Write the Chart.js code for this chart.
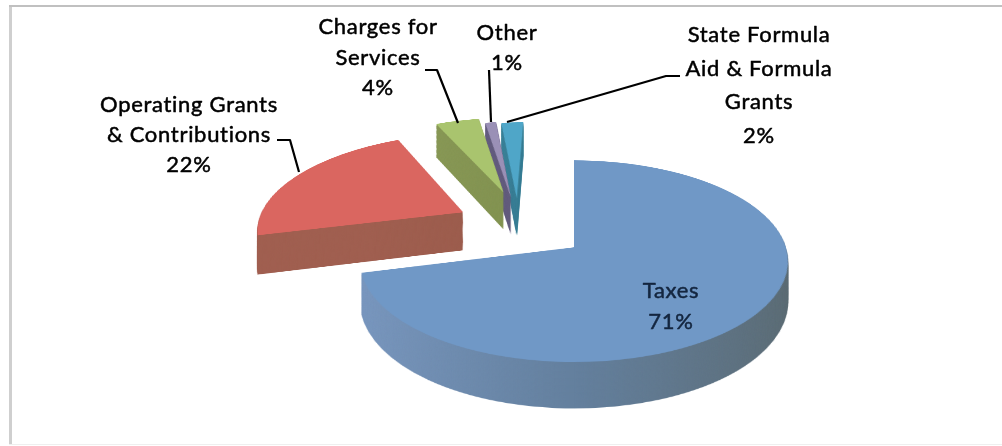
<!DOCTYPE html>
<html>
<head>
<meta charset="utf-8">
<title>Revenue by source</title>
<script src="https://cdn.jsdelivr.net/npm/chart.js@4"></script>
<style>
  html, body { margin: 0; padding: 0; background: #fff; }
  canvas { display: block; }
</style>
</head>
<body>
<canvas id="revenuePie" width="1002" height="446"></canvas>
<script>
// --- DATA ---
const categories = ['Taxes', 'Operating Grants & Contributions', 'Charges for Services', 'Other', 'State Formula Aid & Formula Grants'];
const values = [71, 22, 4, 1, 2];
const labelLines = [['Taxes'], ['Operating Grants', '& Contributions'], ['Charges for', 'Services'], ['Other'], ['State Formula', 'Aid & Formula', 'Grants']];

// --- STYLE ---
const topColors = ['#7098c6', '#da6660', '#a9c46e', '#9a90b6', '#4fa6c8'];
const sideColors = [['#7a98c0', '#64809e', '#5c6c74'], ['#a05f50', '#985a4a', '#8c5244'], ['#8a9a58', '#7f8f4e', '#76864a'], ['#6a6488', '#5f5878', '#565070'], ['#3f8ea8', '#38788e', '#346c80']];
const labelX = [671, 189, 378, 507, 759];
const labelY = [291, 105, 27, 33, 35];
const lineGap = [31, 30, 30.5, 30, 33.5];
const leaders = [
  null,
  [[277, 140], [290, 140], [299, 172]],
  [[425, 70], [437, 70], [458, 123]],
  [[489, 70], [491, 122]],
  [[680, 76], [666, 76], [507, 122]]
];

// slice displacement on the flat disc, as fractions of the radius
const shiftU = [0, -0.55, -0.36, -0.32, -0.29];
const shiftV = [0, -0.372, -0.60, -0.54, -0.53];

// --- PROJECTION ---
const OFF_W = 800, OFF_H = 800, FLAT_X = 400, FLAT_Y = 450;
const VIEW_X = 574, VIEW_Y = 247;   // disc centre on screen
const RADIUS_X = 212, RADIUS_Y = 99, TILT = 0.138, DEPTH = 40;

function makeLayer() {
  const c = document.createElement('canvas');
  c.width = OFF_W;
  c.height = OFF_H;
  return c;
}

// Copies a flat layer row by row through the perspective, lowered by depth
function project(ctx, flat, radius, depth) {
  const xScale = RADIUS_X / radius;
  for (let y = 0; y < 446; y++) {
    const t = y - VIEW_Y;
    const v = (t - depth) / (RADIUS_Y + TILT * t);
    const srcY = FLAT_Y + v * radius;
    if (srcY < 0 || srcY >= OFF_H - 1) continue;
    const w = 1 / (1 - TILT * v);
    ctx.drawImage(flat, 0, srcY, OFF_W, 1, VIEW_X - FLAT_X * xScale * w, y, OFF_W * xScale * w, 1);
  }
}

const pie3dPlugin = {
  id: 'pie3d',
  beforeDatasetsDraw(chart) {
    const ctx = chart.ctx;
    const arcs = chart.getDatasetMeta(0).data;
    // back to front: small slices first, the big one last
    [4, 3, 2, 1, 0].forEach(i => {
      const arc = arcs[i];
      const r = arc.outerRadius;
      const top = makeLayer();
      const g = top.getContext('2d');
      g.save();
      g.translate(FLAT_X - arc.x + shiftU[i] * r, FLAT_Y - arc.y + shiftV[i] * r);
      arc.draw(g);
      g.restore();

      const side = makeLayer();
      const s = side.getContext('2d');
      s.drawImage(top, 0, 0);
      s.globalCompositeOperation = 'source-in';
      const grad = s.createLinearGradient(FLAT_X - r, 0, FLAT_X + r, 0);
      sideColors[i].forEach((c, n) => grad.addColorStop(n / 2, c));
      s.fillStyle = grad;
      s.fillRect(0, 0, OFF_W, OFF_H);

      for (let d = DEPTH; d > 0; d--) project(ctx, side, r, d);
      project(ctx, top, r, 0);
    });
    return false;
  },
  afterDraw(chart) {
    const ctx = chart.ctx;
    // frame
    ctx.fillStyle = '#cfcfcf';
    ctx.fillRect(9, 6, 3, 438);
    ctx.fillStyle = '#c0c0c0';
    ctx.fillRect(9, 5, 993, 2);
    ctx.fillStyle = '#efefef';
    ctx.fillRect(9, 444, 993, 1);

    // leader lines
    ctx.strokeStyle = '#000';
    ctx.lineWidth = 2.2;
    ctx.lineJoin = 'round';
    leaders.forEach(pts => {
      if (!pts) return;
      ctx.beginPath();
      pts.forEach((p, n) => n ? ctx.lineTo(p[0], p[1]) : ctx.moveTo(p[0], p[1]));
      ctx.stroke();
    });

    // labels
    ctx.font = '22px Lato';
    ctx.letterSpacing = '0.7px';
    ctx.textAlign = 'center';
    ctx.textBaseline = 'middle';
    ctx.lineWidth = 0.5;
    categories.forEach((name, i) => {
      const lines = labelLines[i].concat(values[i] + '%');
      ctx.fillStyle = i === 0 ? '#14263f' : '#000';
      ctx.strokeStyle = ctx.fillStyle;
      lines.forEach((line, n) => {
        ctx.fillText(line, labelX[i], labelY[i] + n * lineGap[i]);
        ctx.strokeText(line, labelX[i], labelY[i] + n * lineGap[i]);
      });
    });
  }
};

new Chart(document.getElementById('revenuePie'), {
  type: 'pie',
  data: {
    labels: categories,
    datasets: [{ data: values, backgroundColor: topColors, borderWidth: 0 }]
  },
  options: {
    responsive: false,
    animation: false,
    plugins: { legend: { display: false }, tooltip: { enabled: false } }
  },
  plugins: [pie3dPlugin]
});
</script>
</body>
</html>
